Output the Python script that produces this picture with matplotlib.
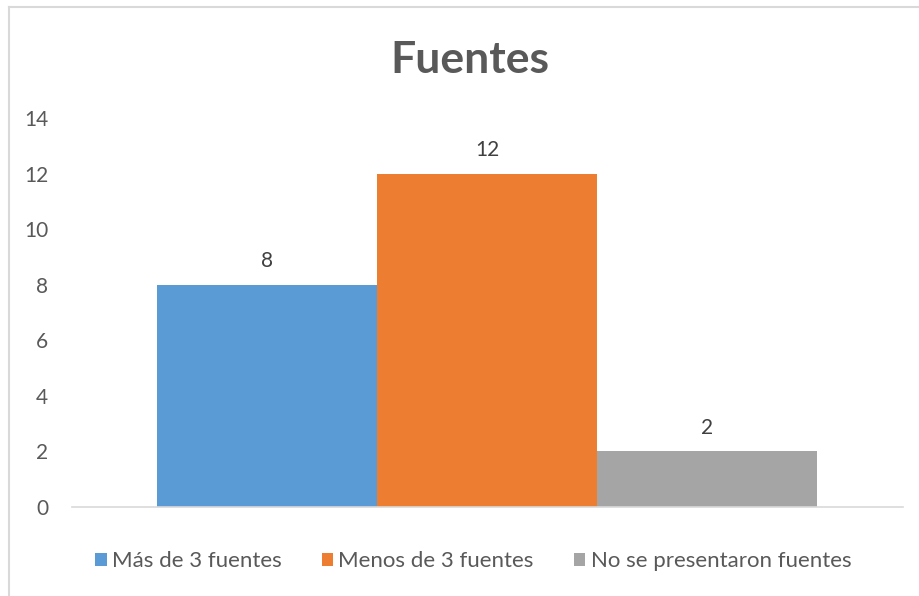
import numpy as np
import matplotlib.pyplot as plt
from matplotlib.lines import Line2D
from matplotlib.patches import Patch

categorias = ['Más de 3 fuentes', 'Menos de 3 fuentes', 'No se presentaron fuentes']
valores = [8, 12, 2]
colores = ['#5b9bd5', '#ed7d31', '#a5a5a5']
yticks = [0, 2, 4, 6, 8, 10, 12, 14]

plt.rcParams['font.family'] = ['Lato', 'DejaVu Sans']
gris = '#595959'

fig = plt.figure(figsize=(9.19, 5.96), dpi=100)
ax = fig.add_axes([0.0783, 0.1493, 0.904, 0.6527])

x = np.arange(len(valores))
ax.bar(x, valores, width=1.0, color=colores, edgecolor='none')
for xi, v in zip(x, valores):
    ax.text(xi, v + 0.5, str(v), ha='center', va='bottom', fontsize=15, color='#404040')

ax.set_xlim(-0.888, 2.888)
ax.set_ylim(0, 14)
ax.set_yticks(yticks)
ax.set_xticks([])
ax.tick_params(axis='y', length=0, pad=17, labelsize=15, labelcolor=gris)
for s in ['top', 'right', 'left']:
    ax.spines[s].set_visible(False)
ax.spines['bottom'].set_color('#d9d9d9')
ax.spines['bottom'].set_linewidth(1.2)

fig.text(0.511, 0.9, 'Fuentes', ha='center', va='center', fontsize=32,
         fontweight='bold', color=gris)

handles = [Patch(facecolor=c, edgecolor='none') for c in colores]
fig.legend(handles, categorias, loc='center', bbox_to_anchor=(0.515, 0.058),
           ncol=3, frameon=False, fontsize=16, labelcolor=gris,
           handlelength=0.5, handleheight=0.5, handletextpad=0.25,
           columnspacing=1.8)

# borde del grafico
fig.add_artist(Line2D([9 / 919, 1], [1 - 7 / 596, 1 - 7 / 596], color='#d9d9d9', lw=1.5))
fig.add_artist(Line2D([9 / 919, 9 / 919], [0, 1 - 7 / 596], color='#d9d9d9', lw=1.5))

plt.savefig('out.png', dpi=100)
